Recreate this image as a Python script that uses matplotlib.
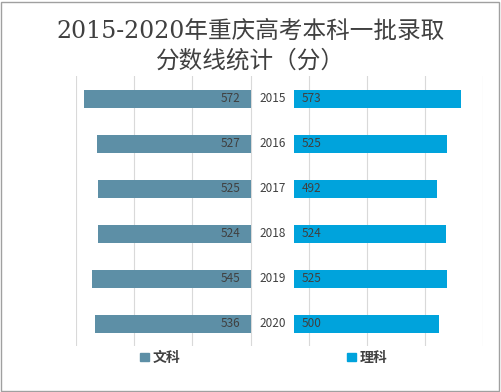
import matplotlib
matplotlib.use('Agg')
import matplotlib.pyplot as plt
from matplotlib.patches import Patch, Rectangle
import numpy as np

plt.rcParams['font.family'] = ['Noto Sans CJK SC', 'DejaVu Sans']

# data
years = ['2015', '2016', '2017', '2018', '2019', '2020']
wenke = [572, 527, 525, 524, 545, 536]
like = [573, 525, 492, 524, 525, 500]
gap = 150  # room in the middle for the year labels

c_wen = '#5d8fa6'
c_li = '#00a3dc'
txt = '#404040'

fig = plt.figure(figsize=(5.01, 3.92), dpi=100)
fig.patches.append(Rectangle((0.002, 0.003), 0.995, 0.993, transform=fig.transFigure,
                             fill=False, edgecolor='#a0a0a0', lw=1))

ax = fig.add_axes([0.152, 0.117, 0.812, 0.689])
y = np.arange(len(years))

ax.barh(y, [-v for v in wenke], height=0.4, color=c_wen)
ax.barh(y, like, left=gap, height=0.4, color=c_li)

for i in range(len(years)):
    ax.text(-35, y[i], str(wenke[i]), ha='right', va='center', fontsize=8.5, color=txt)
    ax.text(gap + 25, y[i], str(like[i]), ha='left', va='center', fontsize=8.5, color=txt)
    ax.text(gap / 2, y[i], years[i], ha='center', va='center', fontsize=8.5, color=txt)

ax.set_xlim(-600, 800)
ax.set_ylim(len(years) - 0.5, -0.5)
for gx in range(-600, 801, 200):
    ax.axvline(gx, color='#d9d9d9', lw=0.8, zorder=0)
ax.set_xticks([])
ax.set_yticks([])
for s in ax.spines.values():
    s.set_visible(False)

title_font = ['DejaVu Serif', 'Noto Sans CJK SC']
fig.text(0.5, 0.92, '2015-2020年重庆高考本科一批录取', ha='center', va='center',
         fontsize=17, color='#404040', family=title_font)
fig.text(0.5, 0.845, '分数线统计（分）', ha='center', va='center',
         fontsize=17, color='#404040', family=title_font)

fig.legend(handles=[Patch(color=c_wen, label='文科')], loc='center left',
           bbox_to_anchor=(0.255, 0.087), frameon=False,
           prop={'size': 10, 'weight': 'bold'},
           handlelength=0.6, handleheight=0.6, handletextpad=0.3, labelcolor=txt)
fig.legend(handles=[Patch(color=c_li, label='理科')], loc='center left',
           bbox_to_anchor=(0.668, 0.087), frameon=False,
           prop={'size': 10, 'weight': 'bold'},
           handlelength=0.6, handleheight=0.6, handletextpad=0.3, labelcolor=txt)

fig.savefig('out.png', dpi=100)
